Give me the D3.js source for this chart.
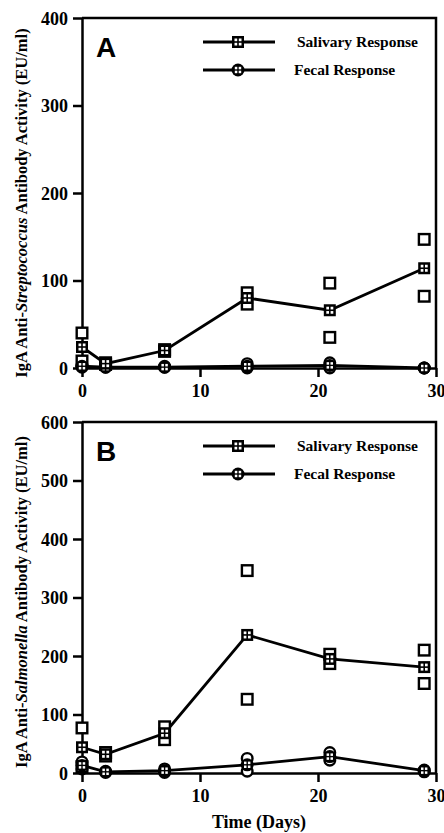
<!DOCTYPE html>
<html>
<head>
<meta charset="utf-8">
<script src="https://cdn.jsdelivr.net/npm/d3@7"></script>
<style>
  body { margin: 0; background: #fff; }
  svg text { font-family: "Liberation Serif", "Times New Roman", serif; font-weight: bold; fill: #000; }
</style>
</head>
<body>
<div id="chart"></div>
<script>
// 采样日 (Days)
var days = [0, 2, 7, 14, 21, 29]

// A: anti-Streptococcus
var strepSalivaryMean = [24, 5, 20, 80, 66, 114]
var strepSalivary1 = [40, 6, 21, 86, 97, 147]
var strepSalivary2 = [8, 4, 19, 73, 35, 82]
var strepFecalMean = [2, 1, 1, 2, 3, 0]
var strepFecal1 = [3, 2, 2, 5, 6, 0]
var strepFecal2 = [1, 1, 1, 0, 0, 0]

// B: anti-Salmonella
var salmSalivaryMean = [44, 32, 68, 236, 195, 181]
var salmSalivary1 = [77, 35, 79, 346, 203, 210]
var salmSalivary2 = [11, 29, 57, 126, 187, 153]
var salmFecalMean = [13, 2, 4, 14, 28, 4]
var salmFecal1 = [19, 3, 7, 25, 35, 5]
var salmFecal2 = [7, 1, 1, 3, 22, 2]

var xTicks = [0, 10, 20, 30]
var yTicksA = [0, 100, 200, 300, 400]
var yTicksB = [0, 100, 200, 300, 400, 500, 600]
var legendNames = ['Salivary Response', 'Fecal Response']

/**
 * 常量
 */
var width = 444
var height = 833
var left = 82
var right = 436
var serif = '"Liberation Serif", "Times New Roman", serif'

var svg = d3.select('#chart')
  .append('svg')
  .attr('width', width)
  .attr('height', height)

// 十字方块 / 十字圆点
function crossSquare(g, x, y) {
  g.append('rect')
    .attr('x', x - 6).attr('y', y - 6)
    .attr('width', 12).attr('height', 12)
    .attr('fill', '#000')
  ;[[-1, -1], [1, -1], [-1, 1], [1, 1]].forEach(d => {
    g.append('rect')
      .attr('x', x + (d[0] < 0 ? -3.5 : 0.8)).attr('y', y + (d[1] < 0 ? -3.5 : 0.8))
      .attr('width', 2.7).attr('height', 2.7)
      .attr('fill', '#fff')
  })
}

function crossCircle(g, x, y) {
  g.append('circle')
    .attr('cx', x).attr('cy', y).attr('r', 6.5)
    .attr('fill', '#000')
  ;[[-1, -1], [1, -1], [-1, 1], [1, 1]].forEach(d => {
    g.append('rect')
      .attr('x', x + (d[0] < 0 ? -3.2 : 0.7)).attr('y', y + (d[1] < 0 ? -3.2 : 0.7))
      .attr('width', 2.5).attr('height', 2.5)
      .attr('fill', '#fff')
  })
}

function drawPanel(opt) {
  var g = svg.append('g')

  var x = d3.scaleLinear().domain([0, 30]).range([left, right])
  var y = d3.scaleLinear().domain([0, opt.yMax]).range([opt.bottom, opt.top])

  // 边框: 上、右
  g.append('path')
    .attr('d', `M${left},${opt.top}H${right}V${opt.bottom}`)
    .attr('fill', 'none')
    .attr('stroke', '#000')
    .attr('stroke-width', 2.5)

  // 坐标轴
  var yAxis = g.append('g')
    .attr('transform', `translate(${left},0)`)
    .call(d3.axisLeft(y).tickValues(opt.yTicks).tickSize(9).tickSizeOuter(0).tickPadding(5).tickFormat(d3.format('d')))
  var xAxis = g.append('g')
    .attr('transform', `translate(0,${opt.bottom})`)
    .call(d3.axisBottom(x).tickValues(xTicks).tickSize(9).tickSizeOuter(0).tickPadding(7).tickFormat(d3.format('d')))

  ;[yAxis, xAxis].forEach(a => {
    a.attr('font-family', serif)
    a.select('.domain').attr('stroke-width', 2.5)
    a.selectAll('.tick line').attr('stroke-width', 2.5)
    a.selectAll('text')
      .style('font-family', serif)
      .style('font-weight', 'bold')
      .style('font-size', '18px')
      .attr('fill', '#000')
  })
  yAxis.selectAll('text').attr('dy', '0.36em')

  // y轴标题
  var yLab = g.append('text')
    .attr('transform', `translate(27,${opt.labelY}) rotate(-90)`)
    .attr('text-anchor', 'middle')
    .attr('font-size', 16.5)
  yLab.append('tspan').text('IgA Anti-')
  yLab.append('tspan').attr('font-style', 'italic').text(opt.organism)
  yLab.append('tspan').text(' Antibody Activity (EU/ml)')

  // 面板字母
  g.append('text')
    .attr('x', 96)
    .attr('y', opt.top + 39)
    .attr('font-size', 28)
    .style('font-family', '"Liberation Sans", Arial, sans-serif')
    .text(opt.letter)

  // 折线
  var line = d3.line()
    .x((d, i) => x(days[i]))
    .y(d => y(d))

  ;[opt.fecalMean, opt.salivaryMean].forEach(s => {
    g.append('path')
      .attr('d', line(s))
      .attr('fill', 'none')
      .attr('stroke', '#000')
      .attr('stroke-width', 2.8)
  })

  // 个体点
  ;[opt.fecal1, opt.fecal2].forEach(s => {
    s.forEach((v, i) => {
      g.append('circle')
        .attr('cx', x(days[i])).attr('cy', y(v)).attr('r', 5.3)
        .attr('fill', '#fff').attr('stroke', '#000').attr('stroke-width', 2.4)
    })
  })
  ;[opt.salivary1, opt.salivary2].forEach(s => {
    s.forEach((v, i) => {
      g.append('rect')
        .attr('x', x(days[i]) - 5.3).attr('y', y(v) - 5.3)
        .attr('width', 10.6).attr('height', 10.6)
        .attr('fill', '#fff').attr('stroke', '#000').attr('stroke-width', 2.4)
    })
  })

  // 均值点
  opt.fecalMean.forEach((v, i) => crossCircle(g, x(days[i]), y(v)))
  opt.salivaryMean.forEach((v, i) => crossSquare(g, x(days[i]), y(v)))

  // 图例
  legendNames.forEach((name, i) => {
    var ly = opt.top + 24 + i * 28
    g.append('line')
      .attr('x1', 203).attr('x2', 275)
      .attr('y1', ly).attr('y2', ly)
      .attr('stroke', '#000').attr('stroke-width', 2.8)
    if (i === 0) crossSquare(g, 238, ly)
    else crossCircle(g, 238, ly)
    g.append('text')
      .attr('x', i === 0 ? 297 : 294)
      .attr('y', ly + 5)
      .attr('font-size', 15.5)
      .text(name)
  })
}

drawPanel({
  top: 18, bottom: 368, yMax: 400, yTicks: yTicksA,
  letter: 'A', organism: 'Streptococcus', labelY: 203,
  salivaryMean: strepSalivaryMean, salivary1: strepSalivary1, salivary2: strepSalivary2,
  fecalMean: strepFecalMean, fecal1: strepFecal1, fecal2: strepFecal2
})

drawPanel({
  top: 422, bottom: 773, yMax: 600, yTicks: yTicksB,
  letter: 'B', organism: 'Salmonella', labelY: 602,
  salivaryMean: salmSalivaryMean, salivary1: salmSalivary1, salivary2: salmSalivary2,
  fecalMean: salmFecalMean, fecal1: salmFecal1, fecal2: salmFecal2
})

// x轴标题
svg.append('text')
  .attr('x', (left + right) / 2)
  .attr('y', 828)
  .attr('text-anchor', 'middle')
  .attr('font-size', 18)
  .text('Time (Days)')
</script>
</body>
</html>
